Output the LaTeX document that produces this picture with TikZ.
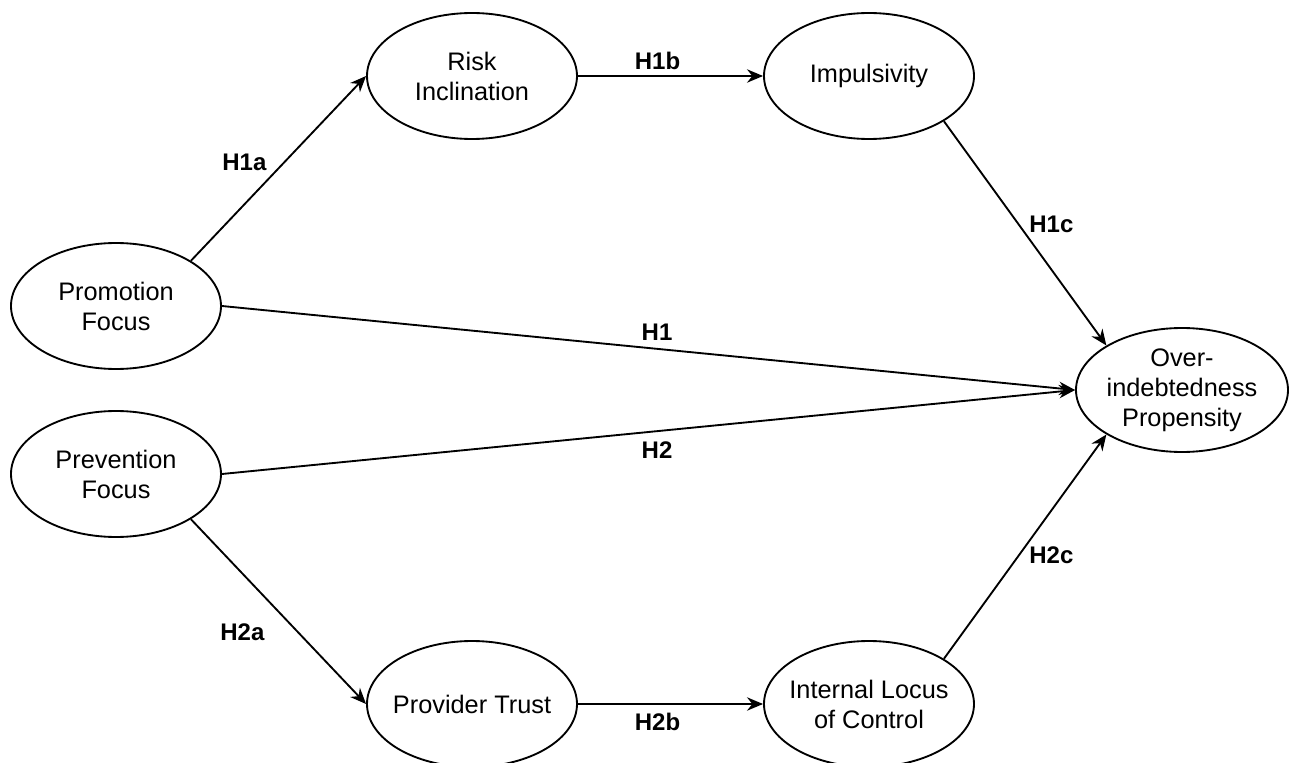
\documentclass[tikz,border=0pt]{standalone}
\usepackage{fontspec}
\setmainfont{Liberation Sans}
\usetikzlibrary{arrows.meta,positioning,shapes.geometric}

\begin{document}
\begin{tikzpicture}[x=0.75pt, y=-0.75pt,
  latent/.style={draw, ellipse, line width=1.4pt, minimum width=157.5pt, minimum height=94.5pt, inner xsep=-12pt, inner ysep=0pt, align=center, font=\fontsize{19}{22.5}\selectfont},
  arrow/.style={-{Stealth[length=12pt,width=10pt]}, line width=1.4pt},
  hyp/.style={font=\fontsize{18}{21}\selectfont\bfseries},
]
  \useasboundingbox (0,0) rectangle (1290,763);
  \node[latent] (risk) at (472,76) {Risk\\Inclination};
  \node[latent] (impul) at (869,76) {Impulsivity};
  \node[latent] (prom) at (116,306) {Promotion\\Focus};
  \node[latent] (prev) at (116,474) {Prevention\\Focus};
  \node[latent, minimum width=159pt, minimum height=93pt] (over) at (1182,390) {Over-\\indebtedness\\Propensity};
  \node[latent] (trust) at (472,704) {Provider Trust};
  \node[latent] (locus) at (869,704) {Internal Locus\\of Control};
  \draw[arrow] (prom.north east) -- node[hyp, pos=0.53, left=9pt] {H1a} (risk.west);
  \draw[arrow] (risk.east) -- node[hyp, pos=0.43, above=1pt] {H1b} (impul.west);
  \draw[arrow] (impul.south east) -- node[hyp, pos=0.46, right=4pt] {H1c} (over.north west);
  \draw[arrow] (prom.east) -- node[hyp, pos=0.51, above=2pt] {H1} (over.west);
  \draw[arrow] (prev.east) -- node[hyp, pos=0.51, below=4pt] {H2} (over.west);
  \draw[arrow] (prev.south east) -- node[hyp, pos=0.61, left=21pt] {H2a} (trust.west);
  \draw[arrow] (trust.east) -- node[hyp, pos=0.43, below=3pt] {H2b} (locus.west);
  \draw[arrow] (locus.north east) -- node[hyp, pos=0.46, right=4pt] {H2c} (over.south west);
\end{tikzpicture}
\end{document}
